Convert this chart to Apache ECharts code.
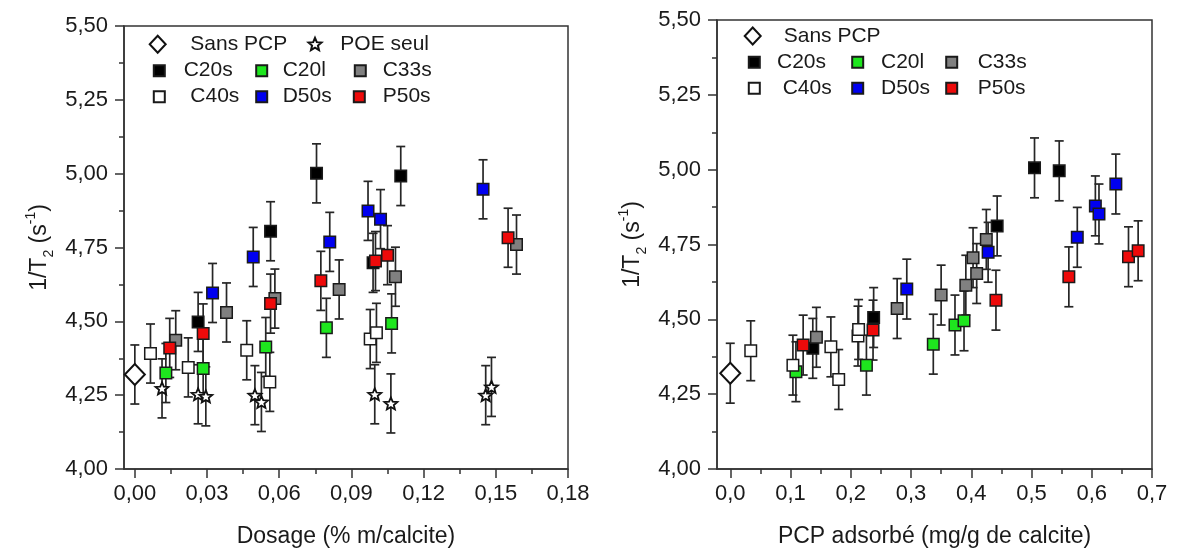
<!DOCTYPE html>
<html><head><meta charset="utf-8">
<script src="https://cdn.jsdelivr.net/npm/echarts@6/dist/echarts.min.js"></script>
<style>html,body{margin:0;padding:0;background:#fff}#c{width:1192px;height:558px}</style>
</head><body><div id="c"></div>
<script>
// ---------- tick labels ----------
const yTicks = [4.00, 4.25, 4.50, 4.75, 5.00, 5.25, 5.50];
const xTicksLeft = [0, 0.03, 0.06, 0.09, 0.12, 0.15, 0.18];
const xMinorLeft = [0.015, 0.045, 0.075, 0.105, 0.135, 0.165];
const xTicksRight = [0, 0.1, 0.2, 0.3, 0.4, 0.5, 0.6, 0.7];
const xMinorRight = [0.05, 0.15, 0.25, 0.35, 0.45, 0.55, 0.65];
const errBar = 0.10; // half-length of every error bar

// ---------- left plot: 1/T2 vs dosage ----------
const sansPCP_L = [[0, 4.32]];
const poeSeul_L = [[0.0113,4.273],[0.0263,4.253],[0.0295,4.246],[0.0499,4.250],[0.0526,4.227],[0.0997,4.253],[0.1064,4.222],[0.1458,4.250],[0.1482,4.278]];
const c20s_L = [[0.0263,4.498],[0.0564,4.805],[0.0755,5.001],[0.0990,4.698],[0.1105,4.992]];
const c20l_L = [[0.0129,4.325],[0.0284,4.340],[0.0544,4.413],[0.0796,4.478],[0.1067,4.493]];
const c33s_L = [[0.0170,4.436],[0.0381,4.530],[0.0582,4.577],[0.0849,4.608],[0.1083,4.651],[0.1586,4.760]];
const c40s_L = [[0.0065,4.391],[0.0222,4.344],[0.0465,4.402],[0.0561,4.295],[0.0978,4.440],[0.1004,4.461]];
const d50s_L = [[0.0323,4.596],[0.0492,4.718],[0.0810,4.769],[0.0969,4.874],[0.1021,4.846],[0.1447,4.947]];
const p50s_L = [[0.0145,4.410],[0.0284,4.459],[0.0564,4.560],[0.0773,4.637],[0.1000,4.704],[0.1050,4.724],[0.1551,4.783]];

// ---------- right plot: 1/T2 vs adsorbed PCP ----------
const sansPCP_R = [[0, 4.32]];
const c20s_R = [[0.137,4.403],[0.238,4.506],[0.443,4.812],[0.505,5.006],[0.546,4.996]];
const c20l_R = [[0.109,4.325],[0.226,4.347],[0.337,4.417],[0.373,4.481],[0.388,4.495]];
const c33s_R = [[0.143,4.440],[0.277,4.536],[0.350,4.581],[0.391,4.614],[0.403,4.706],[0.409,4.653],[0.425,4.767]];
const c40s_R = [[0.034,4.395],[0.104,4.347],[0.167,4.408],[0.180,4.299],[0.212,4.444],[0.213,4.466]];
const d50s_R = [[0.293,4.601],[0.428,4.724],[0.576,4.774],[0.606,4.879],[0.612,4.852],[0.640,4.952]];
const p50s_R = [[0.121,4.414],[0.237,4.464],[0.441,4.564],[0.562,4.642],[0.661,4.709],[0.677,4.729]];

// ---------- styling ----------
const FONT = 'Liberation Sans';
const AX = '#333';
const TXT = '#1a1a1a';
const STAR = 'path://M100,0 L126.45,63.6 L195.1,69.1 L142.8,113.9 L158.8,180.9 L100,145 L41.2,180.9 L57.2,113.9 L4.9,69.1 L73.55,63.6 Z';
const sq = {
  'C20s': '#000000', 'C20l': '#1ee61e', 'C33s': '#808080',
  'C40s': '#ffffff', 'D50s': '#0000f0', 'P50s': '#ee0a0a'
};

function errSeries(xi, yi, sets) {
  const data = [];
  sets.forEach(s => s.forEach(p => data.push([p[0], p[1], errBar])));
  return {
    type: 'custom', xAxisIndex: xi, yAxisIndex: yi, z: 1, silent: true,
    data: data, encode: { x: 0, y: 1 },
    renderItem: function (params, api) {
      const x = api.value(0), y = api.value(1), e = api.value(2);
      const t = api.coord([x, y + e]), b = api.coord([x, y - e]);
      const cw = 4.5, st = { stroke: '#262626', lineWidth: 1.7 };
      return { type: 'group', children: [
        { type: 'line', shape: { x1: t[0], y1: t[1], x2: b[0], y2: b[1] }, style: st },
        { type: 'line', shape: { x1: t[0] - cw, y1: t[1], x2: t[0] + cw, y2: t[1] }, style: st },
        { type: 'line', shape: { x1: b[0] - cw, y1: b[1], x2: b[0] + cw, y2: b[1] }, style: st }
      ]};
    }
  };
}
function sqSeries(name, data, xi, yi) {
  return { type: 'scatter', name: name, xAxisIndex: xi, yAxisIndex: yi, z: 3,
    symbol: 'rect', symbolSize: 11.5, data: data,
    itemStyle: { color: sq[name], borderColor: '#1a1a1a', borderWidth: 1.5, opacity: 1 },
    emphasis: { disabled: true } };
}
function diamondSeries(data, xi, yi) {
  return { type: 'scatter', name: 'Sans PCP', xAxisIndex: xi, yAxisIndex: yi, z: 3,
    symbol: 'diamond', symbolSize: [20, 21], data: data,
    itemStyle: { color: '#ffffff', borderColor: '#111', borderWidth: 2, opacity: 1 },
    emphasis: { disabled: true } };
}
function starSeries(data, xi, yi) {
  return { type: 'scatter', name: 'POE seul', xAxisIndex: xi, yAxisIndex: yi, z: 3,
    symbol: STAR, symbolSize: [13, 12.5], symbolKeepAspect: true, data: data,
    itemStyle: { color: '#ffffff', borderColor: '#111', borderWidth: 1.8, opacity: 1 },
    emphasis: { disabled: true } };
}

function legendItem(name, icon, cx, cy, w, h, textLeft) {
  const left = cx - w / 2;
  const pad = Math.max(0, textLeft - (left + w + 5));
  return {
    show: true, selectedMode: false, orient: 'horizontal', padding: 0,
    left: left, top: cy - 11, itemWidth: w, itemHeight: h,
    data: [{ name: name, icon: icon }],
    textStyle: { fontFamily: FONT, fontSize: 21, lineHeight: 22, color: TXT, padding: [0, 0, 0, pad] }
  };
}

const yName = '1/T{sub|2} (s{sup|-1})';
const nameRich = {
  sub: { fontFamily: FONT, fontSize: 14, color: TXT, verticalAlign: 'bottom', lineHeight: 14 },
  sup: { fontFamily: FONT, fontSize: 14, color: TXT, verticalAlign: 'top', lineHeight: 14 }
};

function yAxisDef(gi) {
  return {
    type: 'value', gridIndex: gi, min: yTicks[0], max: yTicks[yTicks.length - 1], interval: 0.25,
    axisLine: { show: true, onZero: false, lineStyle: { color: AX, width: 1.5 } },
    axisTick: { show: true, length: 9, lineStyle: { color: AX, width: 1.5 } },
    minorTick: { show: true, splitNumber: 2, length: 5, lineStyle: { color: AX, width: 1.5 } },
    splitLine: { show: false }, minorSplitLine: { show: false },
    axisLabel: { fontFamily: FONT, fontSize: 22, color: TXT, margin: 16,
      formatter: v => v.toFixed(2).replace('.', ',') },
    name: yName, nameLocation: 'middle', nameRotate: 90, nameGap: 68,
    nameTextStyle: { fontFamily: FONT, fontSize: 23, color: TXT, lineHeight: 32, rich: nameRich }
  };
}
function xAxisMajor(gi, min, max, ticks, dec, name) {
  return {
    type: 'value', gridIndex: gi, position: 'bottom', min: min, max: max,
    axisLine: { show: true, onZero: false, lineStyle: { color: AX, width: 1.5 } },
    axisTick: { show: true, length: 9, customValues: ticks, lineStyle: { color: AX, width: 1.5 } },
    splitLine: { show: false },
    axisLabel: { fontFamily: FONT, fontSize: 22, color: TXT, margin: 14, customValues: ticks,
      formatter: v => v.toFixed(dec).replace('.', ',') },
    name: name, nameLocation: 'middle', nameGap: 56,
    nameTextStyle: { fontFamily: FONT, fontSize: 23, color: TXT }
  };
}
function xAxisMinor(gi, min, max, ticks) {
  return {
    type: 'value', gridIndex: gi, position: 'bottom', offset: 0, min: min, max: max,
    axisLine: { show: false, onZero: false },
    axisTick: { show: true, length: 5, customValues: ticks, lineStyle: { color: AX, width: 1.5 } },
    axisLabel: { show: false }, splitLine: { show: false }
  };
}

const option = {
  animation: false,
  textStyle: { fontFamily: FONT },
  grid: [
    { left: 124, top: 26, width: 444, height: 443, show: true, borderColor: AX, borderWidth: 1.5, backgroundColor: 'rgba(0,0,0,0)' },
    { left: 717, top: 20, width: 435, height: 449, show: true, borderColor: AX, borderWidth: 1.5, backgroundColor: 'rgba(0,0,0,0)' }
  ],
  xAxis: [
    xAxisMajor(0, -0.0045, 0.18, xTicksLeft, 2, 'Dosage (% m/calcite)'),
    xAxisMinor(0, -0.0045, 0.18, xMinorLeft),
    xAxisMajor(1, -0.022, 0.7, xTicksRight, 1, 'PCP adsorbé (mg/g de calcite)'),
    xAxisMinor(1, -0.022, 0.7, xMinorRight)
  ],
  yAxis: [yAxisDef(0), yAxisDef(1)],
  legend: [
    legendItem('Sans PCP', 'diamond', 156.7, 44.3, 16, 17, 189.3),
    legendItem('POE seul', STAR, 314, 44, 13, 13, 339.3),
    legendItem('C20s', 'rect', 158.3, 70.7, 11, 11, 182.7),
    legendItem('C20l', 'rect', 260.7, 70.7, 11, 11, 281.7),
    legendItem('C33s', 'rect', 359.3, 70.7, 11, 11, 381.7),
    legendItem('C40s', 'rect', 158.3, 96.7, 11, 11, 189.3),
    legendItem('D50s', 'rect', 260.7, 96.7, 11, 11, 281.7),
    legendItem('P50s', 'rect', 358.3, 96.7, 11, 11, 381.7),
    legendItem('Sans PCP', 'diamond', 751.7, 36, 16, 17, 782.7),
    legendItem('C20s', 'rect', 753.3, 62.3, 11, 11, 776),
    legendItem('C20l', 'rect', 856.7, 62.3, 11, 11, 880),
    legendItem('C33s', 'rect', 950.7, 62.3, 11, 11, 976.7),
    legendItem('C40s', 'rect', 753.3, 88.3, 11, 11, 781.7),
    legendItem('D50s', 'rect', 856.7, 88.3, 11, 11, 880),
    legendItem('P50s', 'rect', 950.7, 88.3, 11, 11, 976.7)
  ],
  series: [
    errSeries(0, 0, [sansPCP_L, poeSeul_L, c20s_L, c20l_L, c33s_L, c40s_L, d50s_L, p50s_L]),
    diamondSeries(sansPCP_L, 0, 0),
    starSeries(poeSeul_L, 0, 0),
    sqSeries('C20s', c20s_L, 0, 0),
    sqSeries('C20l', c20l_L, 0, 0),
    sqSeries('C33s', c33s_L, 0, 0),
    sqSeries('C40s', c40s_L, 0, 0),
    sqSeries('D50s', d50s_L, 0, 0),
    sqSeries('P50s', p50s_L, 0, 0),
    errSeries(2, 1, [sansPCP_R, c20s_R, c20l_R, c33s_R, c40s_R, d50s_R, p50s_R]),
    diamondSeries(sansPCP_R, 2, 1),
    sqSeries('C20s', c20s_R, 2, 1),
    sqSeries('C20l', c20l_R, 2, 1),
    sqSeries('C33s', c33s_R, 2, 1),
    sqSeries('C40s', c40s_R, 2, 1),
    sqSeries('D50s', d50s_R, 2, 1),
    sqSeries('P50s', p50s_R, 2, 1)
  ]
};
const chart = echarts.init(document.getElementById('c'), null, { renderer: 'canvas' });
chart.setOption(option);
</script>
</body></html>
